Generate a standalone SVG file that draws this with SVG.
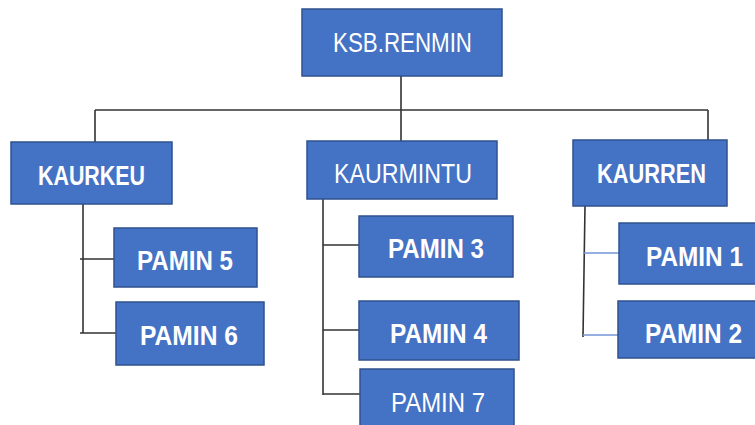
<svg xmlns="http://www.w3.org/2000/svg" width="755" height="425" viewBox="0 0 755 425">
<style>
.box{fill:#4472C4;stroke:#2F528F;stroke-width:1.5}
.t{font-family:"Liberation Sans",Arial,sans-serif;font-size:27px;fill:#ffffff}
.b{font-weight:bold}
.ln{stroke:#333333;stroke-width:1.6;fill:none}
.lb{stroke:#7395D6;stroke-width:1.6;fill:none}
</style>
<rect width="755" height="425" fill="#ffffff"/>
<g id="connectors">
<path class="ln" d="M401,76 V110 M95,110 H708 M95,110 V142 M401,110 V141 M708,110 V140"/>
<path class="ln" d="M83,204 V333 M80,259 H115 M80,333 H117"/>
<path class="ln" d="M323,199 V395 M323,245 H360 M323,330 H360 M323,394 H361"/>
<path class="ln" d="M585,206 L583,337"/>
<path class="lb" d="M583,253 H619 M583,335 H618"/>
</g>
<g id="ksb-renmin"><rect class="box" x="302" y="9" width="200" height="67"/><text class="t" x="333" y="52" textLength="139" lengthAdjust="spacingAndGlyphs">KSB.RENMIN</text></g>
<g id="kaurkeu"><rect class="box" x="11" y="142" width="161" height="62"/><text class="t b" x="38" y="185" textLength="107" lengthAdjust="spacingAndGlyphs">KAURKEU</text></g>
<g id="kaurmintu"><rect class="box" x="307" y="141" width="190" height="58"/><text class="t" x="334" y="183" textLength="138" lengthAdjust="spacingAndGlyphs">KAURMINTU</text></g>
<g id="kaurren"><rect class="box" x="573" y="140" width="154" height="66"/><text class="t b" x="597" y="183" textLength="109" lengthAdjust="spacingAndGlyphs">KAURREN</text></g>
<g id="pamin5"><rect class="box" x="114" y="228" width="143" height="59"/><text class="t b" x="137" y="270" textLength="96" lengthAdjust="spacingAndGlyphs">PAMIN 5</text></g>
<g id="pamin6"><rect class="box" x="116" y="302" width="148" height="63"/><text class="t b" x="140" y="345" textLength="98" lengthAdjust="spacingAndGlyphs">PAMIN 6</text></g>
<g id="pamin3"><rect class="box" x="359" y="216" width="154" height="61"/><text class="t b" x="388" y="258" textLength="96" lengthAdjust="spacingAndGlyphs">PAMIN 3</text></g>
<g id="pamin4"><rect class="box" x="359" y="301" width="160" height="59"/><text class="t b" x="390" y="343" textLength="97" lengthAdjust="spacingAndGlyphs">PAMIN 4</text></g>
<g id="pamin7"><rect class="box" x="360" y="369" width="154" height="60"/><text class="t" x="391" y="412" textLength="94" lengthAdjust="spacingAndGlyphs">PAMIN 7</text></g>
<g id="pamin1"><rect class="box" x="619" y="223" width="140" height="61"/><text class="t b" x="646" y="266" textLength="97" lengthAdjust="spacingAndGlyphs">PAMIN 1</text></g>
<g id="pamin2"><rect class="box" x="618" y="301" width="141" height="57"/><text class="t b" x="645" y="343" textLength="97" lengthAdjust="spacingAndGlyphs">PAMIN 2</text></g>
</svg>
